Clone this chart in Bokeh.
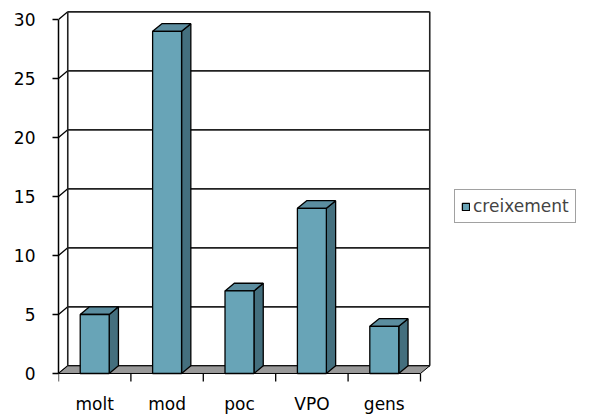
from bokeh.plotting import figure
from bokeh.models import Range1d, FixedTicker, Legend, LegendItem
from bokeh.core.properties import value
from bokeh.embed import file_html
from bokeh.resources import INLINE

# ---- data ----
categories = ["molt", "mod", "poc", "VPO", "gens"]
values = [5, 29, 7, 14, 4]
series_name = "creixement"
y_ticks = [0, 5, 10, 15, 20, 25, 30]

# ---- style / geometry constants ----
FONT = "DejaVu Sans"
FRONT = "#68A4B7"
SIDE = "#446F7E"
TOP = "#5B8D9F"
FLOOR = "#999999"
DX = 0.128      # depth offset in category units
DY = 0.65       # depth offset in value units
BAR_HALF = 0.2

p = figure(width=592, height=414, output_backend="svg", toolbar_location=None,
           x_range=Range1d(0, 7.376), y_range=Range1d(-3.475, 30.763),
           min_border_left=58, min_border_top=10, min_border_right=0, min_border_bottom=0)
p.outline_line_color = None
p.xgrid.visible = False
p.ygrid.visible = False
p.xaxis.visible = False

ax = p.yaxis[0]
ax.ticker = FixedTicker(ticks=y_ticks)
ax.bounds = (y_ticks[0], y_ticks[-1])
ax.major_tick_out = 6
ax.major_tick_in = 0
ax.minor_tick_out = 0
ax.minor_tick_in = 0
ax.axis_line_color = "black"
ax.axis_line_width = 1.5
ax.major_tick_line_width = 1.5
ax.major_label_standoff = 17
ax.major_label_text_font = FONT
ax.major_label_text_font_size = "17px"
ax.major_label_text_color = "black"

n = len(categories)
ymax = y_ticks[-1]

# back wall gridlines
p.segment(x0=[DX] * len(y_ticks), y0=[t + DY for t in y_ticks],
          x1=[n + DX] * len(y_ticks), y1=[t + DY for t in y_ticks],
          line_color="#222222", line_width=1.6)
# left wall diagonals
p.segment(x0=[0] * len(y_ticks), y0=y_ticks, x1=[DX] * len(y_ticks), y1=[t + DY for t in y_ticks],
          line_color="black", line_width=1.3)
# back wall verticals
p.segment(x0=[DX, n + DX], y0=[DY, DY], x1=[DX, n + DX], y1=[ymax + DY, ymax + DY],
          line_color="#222222", line_width=1.6)

# floor
p.patch(x=[0, n, n + DX, DX], y=[0, 0, DY, DY], fill_color=FLOOR, line_color="black", line_width=1)

# category ticks below floor
p.segment(x0=list(range(n + 1)), y0=[0] * (n + 1), x1=list(range(n + 1)), y1=[-0.68] * (n + 1),
          line_color="black", line_width=1.3)

centers = [i + 0.5 for i in range(n)]
lefts = [c - BAR_HALF for c in centers]
rights = [c + BAR_HALF for c in centers]

side_xs = [[r, r + DX, r + DX, r] for r in rights]
side_ys = [[0, DY, v + DY, v] for v in values]
top_xs = [[l, r, r + DX, l + DX] for l, r in zip(lefts, rights)]
top_ys = [[v, v, v + DY, v + DY] for v in values]

p.patches(xs=side_xs, ys=side_ys, fill_color=SIDE, line_color="black", line_width=1.3)
p.patches(xs=top_xs, ys=top_ys, fill_color=TOP, line_color="black", line_width=1.3)
bars = p.quad(left=lefts, right=rights, bottom=[0] * n, top=values,
              fill_color=FRONT, line_color="black", line_width=1.3)

# category labels
p.text(x=centers, y=[-2.62] * n, text=categories, text_align="center",
       text_baseline="alphabetic", text_font=value(FONT), text_font_size="17px",
       text_color="black")

legend = Legend(items=[LegendItem(label=series_name, renderers=[bars])],
                location=(396, 191))
legend.glyph_width = 9
legend.glyph_height = 9
legend.label_standoff = 3
legend.padding = 6
legend.margin = 0
legend.spacing = 0
legend.label_height = 14
legend.label_text_font = FONT
legend.label_text_font_size = "17px"
legend.border_line_color = "#444444"
legend.border_line_width = 1
legend.background_fill_alpha = 1
p.add_layout(legend)

open("out.html", "w").write(file_html(p, INLINE))
